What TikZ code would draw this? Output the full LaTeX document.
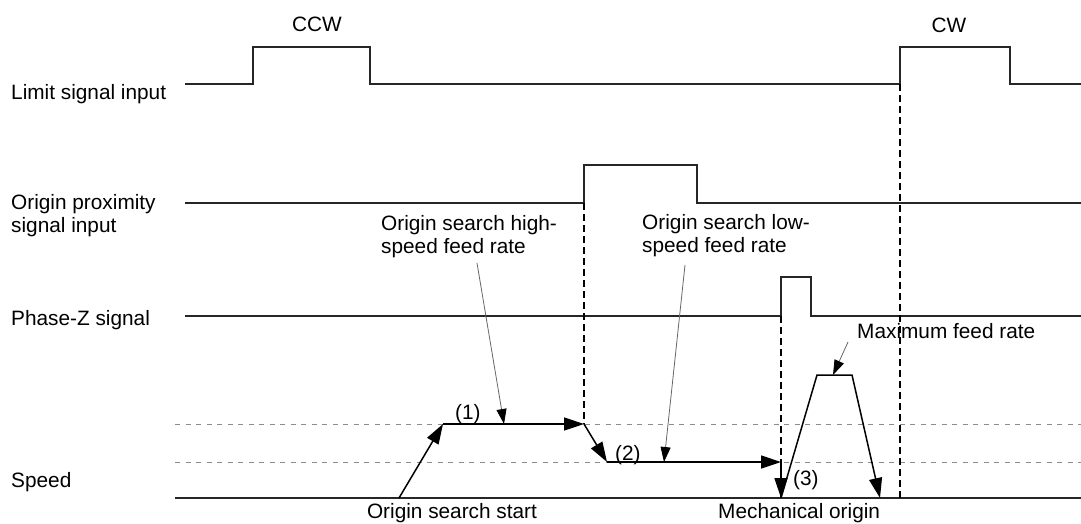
\documentclass[tikz,border=0pt]{standalone}
\usepackage{fontspec}
\setmainfont{Liberation Sans}
\usetikzlibrary{arrows.meta}
\tikzset{
  signal/.style={line width=1.5pt, black!85},
  refline/.style={black!45, line width=1pt, dash pattern=on 5pt off 5.5pt},
  markline/.style={black, line width=1.5pt, dash pattern=on 7pt off 4pt},
  move/.style={line width=1.5pt, -{Triangle[length=20pt,width=13pt]}},
  pointer/.style={black!60, line width=0.8pt, -{Triangle[length=15pt,width=10pt,color=black]}},
  txt/.style={font=\fontsize{20.8}{23}\selectfont, inner sep=0pt, align=left},
}
\begin{document}
\begin{tikzpicture}[x=1pt,y=-1pt]
  \useasboundingbox (0,0) rectangle (1081,523);
  % signal names
  \node[txt, anchor=base west] (limit) at (11,99) {Limit signal input};
  \node[txt, anchor=base west] (prox) at (11,232) {Origin proximity\\signal input};
  \node[txt, anchor=base west] (phasez) at (11,325) {Phase-Z signal};
  \node[txt, anchor=base west] (speed) at (11,487) {Speed};
  \node[txt, anchor=base] (ccw) at (317,31) {CCW};
  \node[txt, anchor=base] (cw) at (949,32) {CW};
  % waveforms
  \draw[signal] (185,84) -- (253,84) -- (253,47) -- (370,47) -- (370,84) -- (900,84)
    -- (900,47) -- (1010,47) -- (1010,84) -- (1081,84);
  \draw[signal] (185,203) -- (584,203) -- (584,165) -- (697,165) -- (697,203) -- (1081,203);
  \draw[signal] (185,316) -- (781,316) -- (781,277) -- (811,277) -- (811,316) -- (1081,316);
  \draw[refline] (175,424) -- (1081,424);
  \draw[refline] (175,462) -- (1081,462);
  \draw[signal] (175,498) -- (1081,498);
  \draw[markline] (584,203) -- (584,424);
  \draw[markline] (781,316) -- (781,498);
  \draw[markline] (900,84) -- (900,498);
  % speed profile
  \coordinate (start) at (399,498);
  \coordinate (hiA) at (443,424);
  \coordinate (hiB) at (584,424);
  \coordinate (loA) at (607,462);
  \coordinate (loB) at (781,462);
  \coordinate (origin) at (781,498);
  \coordinate (maxA) at (817,375);
  \coordinate (maxB) at (852,375);
  \coordinate (stop) at (880,498);
  \draw[move] (start) -- (hiA);
  \draw[move] (hiA) -- (hiB);
  \draw[move] (hiB) -- (loA);
  \draw[move] (loA) -- (loB);
  \draw[move] (loB) -- (origin);
  \draw[move] (origin) -- (maxA) -- (maxB) -- (stop);
  \node[txt, anchor=base west] (one) at (455,419) {(1)};
  \node[txt, anchor=base west] (two) at (615,460) {(2)};
  \node[txt, anchor=base west] (three) at (793,485) {(3)};
  % annotations
  \node[txt, anchor=base west] (hifeed) at (381,253) {Origin search high-\\speed feed rate};
  \node[txt, anchor=base west] (lofeed) at (642,252) {Origin search low-\\speed feed rate};
  \node[txt, anchor=base west] (maxfeed) at (857,338) {Maximum feed rate};
  \node[txt, anchor=base] (startlbl) at (452,518) {Origin search start};
  \node[txt, anchor=base west] (originlbl) at (718,518) {Mechanical origin};
  \coordinate (hiP) at (477,263);
  \coordinate (hiT) at (504,424);
  \coordinate (loP) at (685,265);
  \coordinate (loT) at (664,462);
  \coordinate (maxP) at (848,342);
  \coordinate (maxT) at (833,375);
  \draw[pointer] (hiP) -- (hiT);
  \draw[pointer] (loP) -- (loT);
  \draw[pointer] (maxP) -- (maxT);
\end{tikzpicture}
\end{document}
